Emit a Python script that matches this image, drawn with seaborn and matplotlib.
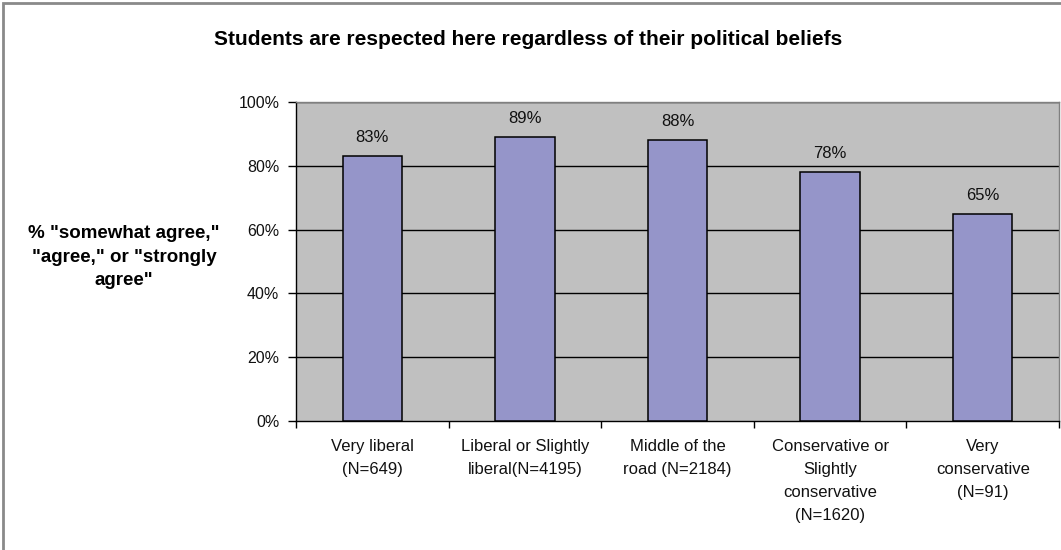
import matplotlib
matplotlib.use("Agg")
import matplotlib.pyplot as plt
import seaborn as sns
import pandas as pd
from matplotlib.patches import Rectangle
from matplotlib.ticker import FuncFormatter

categories = [
    "Very liberal\n(N=649)",
    "Liberal or Slightly\nliberal(N=4195)",
    "Middle of the\nroad (N=2184)",
    "Conservative or\nSlightly\nconservative\n(N=1620)",
    "Very\nconservative\n(N=91)",
]
values = [83, 89, 88, 78, 65]
y_ticks = [0, 20, 40, 60, 80, 100]

sns.set_theme(style="white")
plt.rcParams["font.family"] = ["Liberation Sans", "DejaVu Sans"]

df = pd.DataFrame({"group": categories, "pct": values})

fig = plt.figure(figsize=(10.61, 5.5), dpi=100)
ax = fig.add_axes([296 / 1061, 1 - 421 / 550, (1059 - 296) / 1061, (421 - 102) / 550])

sns.barplot(data=df, x="group", y="pct", ax=ax, color="#9595C9", saturation=1,
            width=0.39, edgecolor="black", linewidth=1.1, zorder=3)

ax.set_facecolor("#C0C0C0")
ax.set_ylim(0, 100)
ax.set_xlim(-0.5, len(categories) - 0.5)
ax.set_yticks(y_ticks)
ax.yaxis.set_major_formatter(FuncFormatter(lambda v, _: f"{int(v)}%"))
for v in y_ticks[1:]:
    ax.axhline(v, color="black", linewidth=1.0, zorder=1)

# category boundary ticks on the x axis
ax.set_xticks(range(len(categories)))
ax.set_xticklabels(categories, fontsize=12, linespacing=1.67)
ax.set_xticks([i - 0.5 for i in range(len(categories) + 1)], minor=True)
ax.tick_params(axis="x", which="major", length=0, pad=13)
ax.tick_params(axis="x", which="minor", length=5, width=1, color="black", direction="out", bottom=True)
ax.tick_params(axis="y", length=6, width=1, color="black", direction="out", left=True, labelsize=11.5, pad=6)

for lbl in ax.get_xticklabels():
    lbl.set_verticalalignment("top")
    lbl.set_color("#111111")
for lbl in ax.get_yticklabels():
    lbl.set_color("#111111")

for side in ["left", "bottom"]:
    ax.spines[side].set_color("black")
    ax.spines[side].set_linewidth(1.0)
for side in ["top", "right"]:
    ax.spines[side].set_color("#808080")
    ax.spines[side].set_linewidth(1.0)

ax.set_xlabel("")
ax.set_ylabel("")

# value labels above each bar
for i, v in enumerate(values):
    ax.text(i, v + 4.4, f"{v}%", ha="center", va="baseline", fontsize=12, color="#111111")

fig.text(0.5 - 2 / 1061, 1 - 45 / 550, "Students are respected here regardless of their political beliefs",
         ha="center", va="baseline", fontsize=15, fontweight="bold", color="black")

fig.text(124 / 1061, 1 - 257 / 550, '% "somewhat agree,"\n"agree," or "strongly\nagree"',
         ha="center", va="center", fontsize=13.5, fontweight="bold", linespacing=1.5, color="black")

# outer chart frame
fig.patches.append(Rectangle((3 / 1061, -0.05), 1.1, 1 - 3 / 550 + 0.05, transform=fig.transFigure,
                             fill=False, edgecolor="#8A8A8A", linewidth=2))

fig.savefig("out.png", dpi=100, facecolor="white")
